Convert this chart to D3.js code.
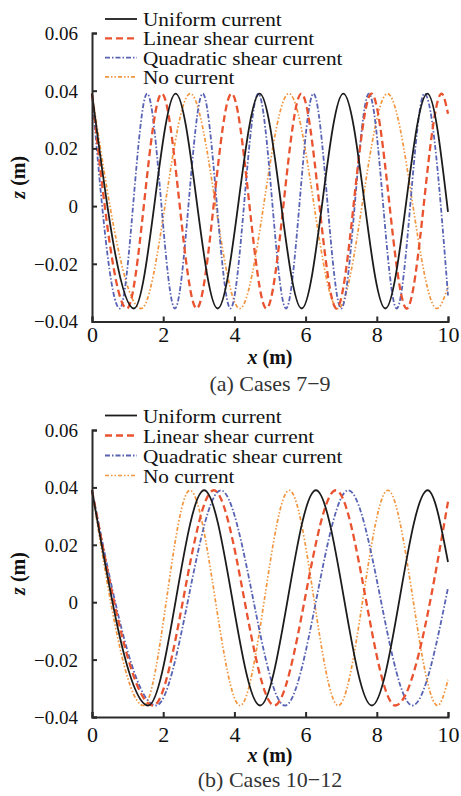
<!DOCTYPE html>
<html>
<head>
<meta charset="utf-8">
<script src="https://cdn.jsdelivr.net/npm/d3@7/dist/d3.min.js"></script>
<style>
  body { margin: 0; background: #fff; }
  svg { display: block; font-family: "Liberation Serif", "Times New Roman", serif; }
</style>
</head>
<body>
<svg id="chart" width="461" height="796"></svg>
<script>
// Surface elevation z (m) along x (m): crests, troughs and the value at x = 10.
const seriesNames = ["Uniform current", "Linear shear current", "Quadratic shear current", "No current"];
const xTicks = [0, 2, 4, 6, 8, 10];
const xTickLabels = ["0", "2", "4", "6", "8", "10"];
const zTicks = [-0.04, -0.02, 0, 0.02, 0.04, 0.06];
const zTickLabels = ["\u22120.04", "\u22120.02", "0", "0.02", "0.04", "0.06"];
const captions = ["(a) Cases 7\u22129", "(b) Cases 10\u221212"];

// Cases 7–9
const uniformA = [[0, 0.039], [1.18, -0.0355], [2.35, 0.039], [3.53, -0.0355], [4.71, 0.039],
  [5.89, -0.0355], [7.06, 0.039], [8.24, -0.0355], [9.42, 0.039], [10, -0.002]];
const linearA = [[0, 0.039], [0.98, -0.0355], [1.96, 0.039], [2.94, -0.0355], [3.92, 0.039],
  [4.90, -0.0355], [5.88, 0.039], [6.87, -0.0355], [7.85, 0.039], [8.84, -0.0355], [9.82, 0.039], [10, 0.032]];
const quadraticA = [[0, 0.039], [0.78, -0.0355], [1.55, 0.039], [2.33, -0.0355], [3.11, 0.039],
  [3.89, -0.0355], [4.67, 0.039], [5.45, -0.0355], [6.22, 0.039], [7.00, -0.0355], [7.78, 0.039],
  [8.56, -0.0355], [9.34, 0.039], [10, -0.031]];
const noCurrentA = [[0, 0.039], [1.38, -0.0355], [2.76, 0.039], [4.15, -0.0355], [5.53, 0.039],
  [6.91, -0.0355], [8.30, 0.039], [9.69, -0.0355], [10, -0.028]];

// Cases 10–12
const uniformB = [[0, 0.039], [1.58, -0.036], [3.15, 0.039], [4.72, -0.036], [6.29, 0.039],
  [7.86, -0.036], [9.43, 0.039], [10, 0.014]];
const linearB = [[0, 0.039], [1.72, -0.036], [3.42, 0.039], [5.12, -0.036], [6.85, 0.039],
  [8.52, -0.036], [10, 0.035]];
const quadraticB = [[0, 0.039], [1.80, -0.036], [3.62, 0.039], [5.42, -0.036], [7.20, 0.039],
  [9.00, -0.036], [10, 0.005]];
const noCurrentB = [[0, 0.039], [1.45, -0.036], [2.75, 0.039], [4.16, -0.036], [5.54, 0.039],
  [6.92, -0.036], [8.31, 0.039], [9.71, -0.036], [10, -0.027]];

// Line styles, in legend order
const styles = [
  { color: "#1c1c1c", width: 1.8, dash: null },
  { color: "#e9532f", width: 2.3, dash: "7,4" },
  { color: "#5863b4", width: 1.8, dash: "5,2,1.5,2" },
  { color: "#f2953f", width: 1.7, dash: "4,2,1.5,2,1.5,2" }
];

const panels = [
  { series: [uniformA, linearA, quadraticA, noCurrentA], top: 33, bottom: 321.5,
    legendY: 19, legendStep: 19.3, tickBase: 341.5, titleBase: 363.5, captionBase: 391 },
  { series: [uniformB, linearB, quadraticB, noCurrentB], top: 430, bottom: 717,
    legendY: 415.5, legendStep: 20, tickBase: 741.5, titleBase: 762, captionBase: 787 }
];

const svg = d3.select("#chart");
const left = 92, right = 448;
const axisColor = "#2a2a2a";

panels.forEach((p, pi) => {
  const x = d3.scaleLinear().domain([0, 10]).range([left, right]);
  const y = d3.scaleLinear().domain([-0.04, 0.06]).range([p.bottom, p.top]);
  const g = svg.append("g");

  // Wave profiles (drawn back to front)
  const line = d3.line().x(d => x(d[0])).y(d => y(d[1])).curve(d3.curveMonotoneX);
  [3, 2, 1, 0].forEach(i => {
    g.append("path")
      .datum(p.series[i])
      .attr("d", line)
      .attr("fill", "none")
      .attr("stroke", styles[i].color)
      .attr("stroke-width", styles[i].width)
      .attr("stroke-dasharray", styles[i].dash)
      .attr("stroke-linejoin", "round");
  });

  // Axes: left and bottom only, ticks pointing inward
  const yAxis = d3.axisLeft(y).tickValues(zTicks).tickSize(-5).tickPadding(14)
    .tickFormat((d, i) => zTickLabels[i]);
  const yg = g.append("g").attr("transform", `translate(${left},0)`).call(yAxis);
  yg.attr("font-family", null);
  yg.select(".domain").attr("stroke", axisColor).attr("stroke-width", 2);
  yg.selectAll(".tick line").attr("stroke", axisColor).attr("stroke-width", 2);
  yg.selectAll(".tick text").attr("font-size", 19).attr("fill", "#111").attr("dy", "0.34em");

  const xAxis = d3.axisBottom(x).tickValues(xTicks).tickSize(-5)
    .tickFormat((d, i) => xTickLabels[i]);
  const xg = g.append("g").attr("transform", `translate(0,${p.bottom})`).call(xAxis);
  xg.attr("font-family", null);
  xg.select(".domain").attr("stroke", axisColor).attr("stroke-width", 2);
  xg.selectAll(".tick line").attr("stroke", axisColor).attr("stroke-width", 2);
  xg.selectAll(".tick text").attr("font-size", 22).attr("fill", "#111")
    .attr("y", p.tickBase - p.bottom).attr("dy", 0);

  // Axis titles
  const xt = g.append("text").attr("x", (left + right) / 2).attr("y", p.titleBase)
    .attr("text-anchor", "middle").attr("font-size", 20).attr("font-weight", "bold").attr("fill", "#111");
  xt.append("tspan").attr("font-style", "italic").text("x");
  xt.append("tspan").text(" (m)");

  const yt = g.append("text")
    .attr("transform", `translate(25,${(p.top + p.bottom) / 2}) rotate(-90)`)
    .attr("text-anchor", "middle").attr("font-size", 20).attr("font-weight", "bold").attr("fill", "#111");
  yt.append("tspan").attr("font-style", "italic").text("z");
  yt.append("tspan").text(" (m)");

  // Legend (slightly widened serif type)
  seriesNames.forEach((name, i) => {
    const ly = p.legendY + i * p.legendStep;
    g.append("line").attr("x1", 105).attr("x2", 137).attr("y1", ly).attr("y2", ly)
      .attr("stroke", styles[i].color).attr("stroke-width", styles[i].width)
      .attr("stroke-dasharray", styles[i].dash);
    g.append("text").attr("transform", `translate(143,${ly + 7}) scale(1.12,1)`)
      .attr("font-size", 19).attr("fill", "#111").text(name);
  });

  // Caption
  g.append("text").attr("x", (left + right) / 2).attr("y", p.captionBase)
    .attr("text-anchor", "middle").attr("font-size", 22).attr("fill", "#333")
    .text(captions[pi]);
});
</script>
</body>
</html>
